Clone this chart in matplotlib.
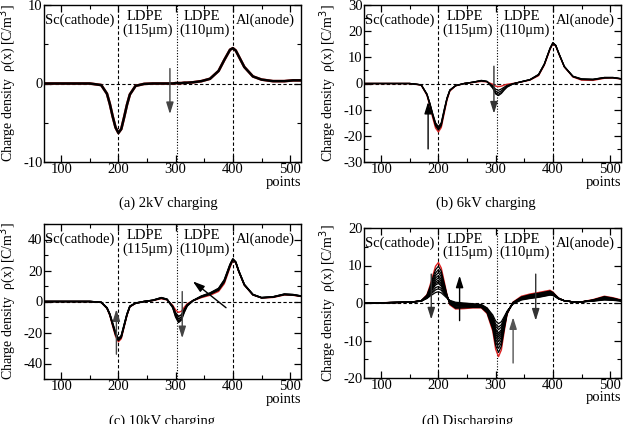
import matplotlib
matplotlib.use("Agg")
import matplotlib.pyplot as plt
from matplotlib.ticker import MultipleLocator

plt.rcParams['font.family'] = ['Liberation Serif', 'DejaVu Serif']
plt.rcParams['axes.unicode_minus'] = False

# ---------------- data ----------------
points = [70, 150, 170, 180, 185, 190, 195, 200, 205, 210, 215, 220, 230, 245, 260,
          275, 285, 295, 300, 305, 310, 315, 320, 330, 345, 360, 375, 385, 395, 400,
          405, 410, 420, 435, 450, 470, 490, 505, 520]

# (a) 2kV charging
a_curve = [0, 0, -0.2, -1.3, -2.6, -4.2, -5.6, -6.3, -5.8, -4.3, -2.7, -1.4, -0.3, -0.05, 0,
           0, 0, 0, 0.05, 0.05, 0.05, 0.1, 0.1, 0.15, 0.3, 0.6, 1.6, 3.0, 4.3, 4.5,
           4.2, 3.5, 2.1, 0.9, 0.5, 0.3, 0.3, 0.4, 0.4]

# (b) 6kV charging: first profile (red) then later profiles (black)
b_curves = [
    [0, 0, -0.6, -4.5, -8.5, -13, -17, -18.5, -16.8, -11.5, -6.3, -2.9, -0.9, 0, 0.4,
     0.8, 0.6, -0.3, -1.0, -1.2, -1.0, -0.6, -0.3, 0, 0.6, 1.3, 3.0, 7.0, 13, 15.2,
     14.3, 11.5, 6.3, 2.5, 1.3, 1.2, 2.0, 2.1, 1.7],
    [0, 0, -0.6, -4.3, -8.1, -12.4, -16.2, -17.8, -16.1, -11.0, -6.0, -2.7, -0.9, 0, 0.4,
     1.0, 0.7, -0.9, -2.2, -2.6, -2.1, -1.4, -0.7, -0.1, 0.6, 1.4, 3.2, 7.2, 13.2, 15.4,
     14.4, 11.6, 6.4, 2.6, 1.5, 1.4, 2.1, 2.2, 1.7],
    [0, 0, -0.5, -4.2, -7.8, -12.0, -15.7, -17.3, -15.6, -10.6, -5.8, -2.6, -0.8, 0, 0.5,
     1.1, 0.7, -1.3, -3.0, -3.4, -2.8, -1.8, -1.0, -0.1, 0.7, 1.4, 3.3, 7.3, 13.3, 15.5,
     14.5, 11.7, 6.4, 2.7, 1.6, 1.5, 2.2, 2.2, 1.8],
    [0, 0, -0.5, -4.1, -7.6, -11.7, -15.3, -16.9, -15.3, -10.3, -5.6, -2.5, -0.8, 0, 0.5,
     1.1, 0.8, -1.6, -3.6, -4.1, -3.4, -2.2, -1.2, -0.2, 0.7, 1.5, 3.4, 7.4, 13.4, 15.5,
     14.6, 11.7, 6.5, 2.7, 1.7, 1.6, 2.3, 2.3, 1.8],
    [0, 0, -0.5, -4.0, -7.5, -11.5, -15.0, -16.5, -15.0, -10.0, -5.5, -2.5, -0.8, 0, 0.5,
     1.2, 0.8, -1.8, -4.0, -4.6, -3.8, -2.5, -1.4, -0.2, 0.7, 1.5, 3.5, 7.5, 13.5, 15.6,
     14.6, 11.8, 6.5, 2.8, 1.8, 1.6, 2.3, 2.3, 1.8],
]

# (c) 10kV charging
c_curves = [
    [0, 0, -0.6, -4.5, -9, -16, -22.5, -26, -24, -16.5, -9, -3.5, -1.2, 0, 0.6,
     1.8, 1.0, -2.5, -5.5, -7, -6.3, -3.8, -1.5, 0.5, 2.5, 4.0, 6.5, 11.5, 22, 26.5,
     25, 19.5, 10.5, 4.2, 2.3, 2.6, 4.2, 4.0, 3.2],
    [0, 0, -0.6, -4.3, -8.6, -15.2, -21.5, -25.2, -23.2, -15.9, -8.6, -3.3, -1.1, 0, 0.7,
     2.1, 1.2, -3.1, -7.3, -9.6, -8.6, -5.1, -2.1, 0.5, 2.9, 4.6, 7.3, 12.5, 22.8, 26.9,
     25.2, 19.7, 10.7, 4.3, 2.4, 2.8, 4.4, 4.2, 3.3],
    [0, 0, -0.5, -4.2, -8.4, -14.7, -20.9, -24.7, -22.7, -15.5, -8.4, -3.2, -1.1, 0, 0.7,
     2.3, 1.3, -3.5, -8.4, -11.2, -10.0, -5.9, -2.5, 0.5, 3.2, 5.0, 7.8, 13.1, 23.3, 27.2,
     25.3, 19.8, 10.8, 4.4, 2.4, 2.9, 4.6, 4.3, 3.4],
    [0, 0, -0.5, -4.1, -8.2, -14.3, -20.4, -24.3, -22.3, -15.2, -8.2, -3.1, -1.0, 0, 0.8,
     2.4, 1.4, -3.8, -9.3, -12.5, -11.1, -6.5, -2.8, 0.5, 3.4, 5.3, 8.2, 13.6, 23.7, 27.4,
     25.4, 19.9, 10.9, 4.5, 2.5, 3.0, 4.7, 4.4, 3.5],
    [0, 0, -0.5, -4, -8, -14, -20, -24, -22, -15, -8, -3, -1, 0, 0.8,
     2.5, 1.5, -4, -10, -13.5, -12, -7, -3, 0.5, 3.5, 5.5, 8.5, 14, 24, 27.5,
     25.5, 20, 11, 4.5, 2.5, 3, 4.8, 4.5, 3.5],
]

# (d) Discharging
d_curves = [
    [0, 0.2, 0.6, 2.2, 4.5, 7.2, 9.8, 10.8, 9.3, 5.8, 2.2, -0.5, -1.6, -1.5, -1.3, -1.3, -2.8, -7.5,
     -12.3, -14.3, -12.5, -7.5, -3.0, 0.2, 1.8, 2.4, 2.8, 3.1, 3.4, 2.9, 2.1, 1.3, 0.6, 0.3, 0.3,
     0.9, 1.8, 1.4, 0.8],
    [0, 0.2, 0.6, 2.1, 4.1, 6.6, 8.9, 9.8, 8.5, 5.3, 2.1, -0.3, -1.4, -1.3, -1.2, -1.2, -2.6, -7.0,
     -11.3, -13.2, -11.5, -7.0, -2.9, 0.1, 1.6, 2.2, 2.6, 2.9, 3.2, 2.8, 2.0, 1.3, 0.6, 0.3, 0.3,
     0.8, 1.7, 1.3, 0.7],
    [0, 0.2, 0.6, 2.0, 3.8, 6.0, 8.0, 8.9, 7.7, 4.9, 2.0, -0.2, -1.2, -1.1, -1.0, -1.1, -2.4, -6.4,
     -10.4, -12.1, -10.6, -6.5, -2.8, 0.1, 1.5, 2.1, 2.5, 2.8, 3.1, 2.7, 2.0, 1.3, 0.6, 0.3, 0.3,
     0.8, 1.6, 1.2, 0.7],
    [0, 0.2, 0.6, 1.9, 3.5, 5.5, 7.3, 8.1, 7.0, 4.5, 1.9, -0.1, -1.0, -1.0, -0.9, -1.0, -2.2, -6.0,
     -9.6, -11.2, -9.8, -6.1, -2.7, 0.0, 1.4, 2.0, 2.3, 2.6, 2.9, 2.6, 1.9, 1.2, 0.6, 0.3, 0.3,
     0.7, 1.5, 1.1, 0.7],
    [0, 0.2, 0.6, 1.8, 3.3, 5.0, 6.7, 7.3, 6.3, 4.1, 1.8, 0.0, -0.8, -0.8, -0.8, -0.9, -2.1, -5.6,
     -8.9, -10.3, -9.1, -5.7, -2.6, 0.0, 1.4, 1.9, 2.2, 2.5, 2.8, 2.5, 1.9, 1.2, 0.6, 0.3, 0.3,
     0.7, 1.4, 1.1, 0.7],
    [0, 0.2, 0.5, 1.7, 3.1, 4.6, 6.1, 6.7, 5.8, 3.8, 1.7, 0.1, -0.6, -0.7, -0.7, -0.8, -2.0, -5.2,
     -8.3, -9.6, -8.5, -5.4, -2.5, 0.0, 1.3, 1.8, 2.1, 2.4, 2.7, 2.4, 1.8, 1.2, 0.6, 0.3, 0.3,
     0.7, 1.3, 1.0, 0.6],
    [0, 0.2, 0.5, 1.6, 2.9, 4.3, 5.6, 6.1, 5.3, 3.5, 1.7, 0.2, -0.5, -0.6, -0.6, -0.8, -1.9, -4.9,
     -7.8, -9.0, -8.0, -5.2, -2.5, -0.1, 1.2, 1.7, 2.0, 2.3, 2.6, 2.4, 1.8, 1.2, 0.6, 0.3, 0.3,
     0.7, 1.2, 1.0, 0.6],
    [0, 0.2, 0.5, 1.5, 2.7, 4.0, 5.2, 5.6, 4.9, 3.3, 1.6, 0.3, -0.4, -0.5, -0.5, -0.7, -1.8, -4.6,
     -7.3, -8.5, -7.5, -4.9, -2.4, -0.1, 1.1, 1.6, 1.9, 2.2, 2.5, 2.3, 1.7, 1.2, 0.6, 0.3, 0.3,
     0.6, 1.1, 0.9, 0.6],
    [0, 0.2, 0.5, 1.5, 2.6, 3.7, 4.8, 5.2, 4.5, 3.1, 1.6, 0.4, -0.3, -0.4, -0.5, -0.7, -1.7, -4.4,
     -6.9, -8.0, -7.1, -4.7, -2.4, -0.2, 1.1, 1.6, 1.9, 2.2, 2.5, 2.3, 1.7, 1.2, 0.6, 0.3, 0.3,
     0.6, 1.1, 0.9, 0.6],
    [0, 0.2, 0.5, 1.4, 2.3, 3.2, 4.1, 4.4, 3.9, 2.7, 1.5, 0.5, -0.1, -0.3, -0.4, -0.6, -1.5, -4.0,
     -6.2, -7.1, -6.4, -4.3, -2.3, -0.2, 1.0, 1.4, 1.7, 2.0, 2.3, 2.2, 1.7, 1.1, 0.6, 0.3, 0.3,
     0.6, 1.0, 0.8, 0.6],
    [0, 0.2, 0.5, 1.3, 2.1, 2.8, 3.5, 3.8, 3.4, 2.4, 1.4, 0.6, 0.0, -0.2, -0.3, -0.5, -1.4, -3.6,
     -5.6, -6.4, -5.8, -4.0, -2.3, -0.3, 0.9, 1.3, 1.6, 1.9, 2.2, 2.1, 1.6, 1.1, 0.6, 0.3, 0.3,
     0.5, 0.9, 0.8, 0.5],
    [0, 0.2, 0.5, 1.2, 1.8, 2.3, 2.8, 3.0, 2.7, 2.0, 1.3, 0.7, 0.2, 0.0, -0.2, -0.4, -1.3, -3.2,
     -4.8, -5.5, -5.0, -3.6, -2.2, -0.3, 0.8, 1.2, 1.5, 1.8, 2.1, 2.0, 1.6, 1.1, 0.6, 0.3, 0.3,
     0.5, 0.8, 0.7, 0.5],
]

region_labels = ["Sc(cathode)", "LDPE", "(115\u03bcm)", "LDPE", "(110\u03bcm)", "Al(anode)"]
captions = ["(a) 2kV charging", "(b) 6kV charging", "(c) 10kV charging", "(d) Discharging"]
ylabel = "Charge density  \u03c1(x) [C/m$^{3}$]"

# ---------------- figure ----------------
fig = plt.figure(figsize=(6.3, 4.24), dpi=100)
W, H = 630, 424

def add_axes(l, r, t, b):
    return fig.add_axes([l / W, 1 - b / H, (r - l) / W, (b - t) / H])

axA = add_axes(44, 301, 5, 162)
axB = add_axes(364, 621, 5, 162)
axC = add_axes(44, 301, 224, 379)
axD = add_axes(364, 621, 228, 378)

FS = 10.5

def style(ax, ylim, major, minor):
    ax.set_xlim(70, 519)
    ax.set_ylim(*ylim)
    ax.xaxis.set_major_locator(MultipleLocator(100))
    ax.xaxis.set_minor_locator(MultipleLocator(50))
    ax.yaxis.set_major_locator(MultipleLocator(major))
    ax.yaxis.set_minor_locator(MultipleLocator(minor))
    ax.tick_params(which='both', direction='in', top=True, right=True, labelsize=FS, pad=1)
    ax.tick_params(which='major', length=5, width=0.9)
    ax.tick_params(which='minor', length=3, width=0.8)
    for s in ax.spines.values():
        s.set_linewidth(1.0)
    ax.axvline(200, color='black', lw=0.8, ls=(0, (3, 2)), zorder=1)
    ax.axvline(303, color='black', lw=0.8, ls=(0, (1, 1.5)), zorder=1)
    ax.axvline(400, color='black', lw=0.8, ls=(0, (3, 2)), zorder=1)
    ax.axhline(0, color='black', lw=0.8, ls=(0, (3, 2)), zorder=1)
    ax.set_ylabel(ylabel, fontsize=10)
    ax.yaxis.set_label_coords(-0.103, 0.5)
    ax.text(1.0, -0.13, "points", transform=ax.transAxes, ha='right', va='center', fontsize=FS)
    tr = ax.get_xaxis_transform()
    ax.text(0.003, 0.9, region_labels[0], transform=ax.transAxes, ha='left', va='center', fontsize=FS)
    ax.text(247, 0.925, region_labels[1], transform=tr, ha='center', va='center', fontsize=FS)
    ax.text(251, 0.84, region_labels[2], transform=tr, ha='center', va='center', fontsize=FS)
    ax.text(346, 0.925, region_labels[3], transform=tr, ha='center', va='center', fontsize=FS)
    ax.text(351, 0.84, region_labels[4], transform=tr, ha='center', va='center', fontsize=FS)
    ax.text(457, 0.9, region_labels[5], transform=tr, ha='center', va='center', fontsize=FS)

def arrow(ax, x0, y0, x1, y1, color='black'):
    ax.annotate('', xy=(x1, y1), xytext=(x0, y0),
                arrowprops=dict(arrowstyle='-|>,head_length=0.7,head_width=0.22',
                                color=color, lw=1.0, shrinkA=0, shrinkB=0), zorder=5)

# (a)
style(axA, (-10, 10), 10, 5)
axA.plot(points, a_curve, color='#cc2222', lw=1.9, zorder=2)
axA.plot(points, a_curve, color='black', lw=1.8, zorder=3)
arrow(axA, 290, 1.9, 290, -3.9, '#444444')

# (b)
style(axB, (-30, 30), 10, 5)
axB.plot(points, b_curves[0], color='#dd2222', lw=1.0, zorder=2)
for c in b_curves[1:]:
    axB.plot(points, c, color='black', lw=0.9, zorder=3)
arrow(axB, 182, -25, 182, -7)
arrow(axB, 297, 6.6, 297, -11.5, '#333333')

# (c)
style(axC, (-50, 50), 20, 10)
axC.plot(points, c_curves[0], color='#dd2222', lw=1.0, zorder=2)
for c in c_curves[1:]:
    axC.plot(points, c, color='black', lw=1.1, zorder=3)
arrow(axC, 196.5, -34, 196.5, -5, '#444444')
arrow(axC, 311.5, 6.4, 311.5, -23.7, '#444444')
arrow(axC, 388, -4, 330, 13)

# (d)
style(axD, (-20, 20), 10, 5)
axD.plot(points, d_curves[0], color='#dd2222', lw=1.0, zorder=2)
for c in d_curves[1:]:
    axD.plot(points, c, color='black', lw=0.9, zorder=3)
arrow(axD, 187.5, 7.7, 187.5, -4.4, '#333333')
arrow(axD, 237, -4.7, 237, 7.3)
arrow(axD, 330.5, -16, 330.5, -3.8, '#555555')
arrow(axD, 370, 7.7, 370, -4.7, '#333333')

# captions
fig.text(168 / W, 1 - 203 / H, captions[0], ha='center', va='center', fontsize=FS)
fig.text(486 / W, 1 - 203 / H, captions[1], ha='center', va='center', fontsize=FS)
fig.text(162 / W, 1 - 421 / H, captions[2], ha='center', va='center', fontsize=FS)
fig.text(468 / W, 1 - 421 / H, captions[3], ha='center', va='center', fontsize=FS)

fig.savefig("out.png", dpi=100)
